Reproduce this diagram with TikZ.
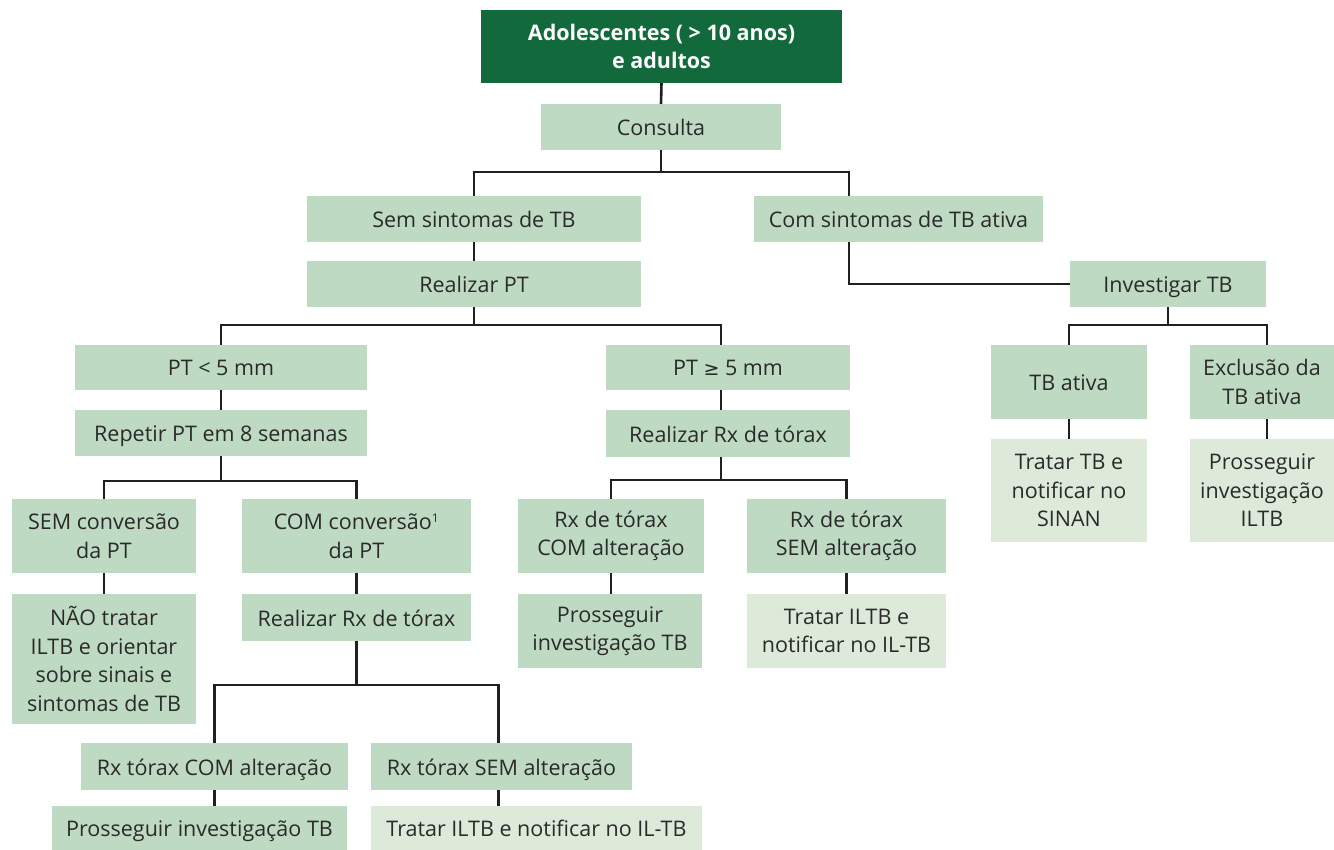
\documentclass[tikz,border=0pt]{standalone}
\usepackage{fontspec}
\setmainfont{Open Sans}
\newfontfamily\symfont{DejaVu Sans}
\definecolor{headgreen}{HTML}{12693B}
\definecolor{midgreen}{HTML}{BEDAC3}
\definecolor{palegreen}{HTML}{DDEADA}
\definecolor{inkgray}{HTML}{2A2A2A}
\definecolor{linegray}{HTML}{231F20}
% box given by its left, top, right and bottom edges
\newcommand{\flowbox}[7]{%
  \node[#6, minimum width={(#4-#2)*1pt}, minimum height={(#5-#3)*1pt}]
    (#1) at ({(#2+#4)/2},{(#3+#5)/2}) {#7};}
\begin{document}
\begin{tikzpicture}[x=1pt, y=-1pt,
  base/.style={inner sep=0pt, outer sep=0pt, align=center,
    font=\fontsize{21.5}{28.5}\selectfont},
  headbox/.style={base, fill=headgreen, text=white,
    font=\fontsize{21.5}{28.5}\selectfont\bfseries},
  stepbox/.style={base, fill=midgreen, text=inkgray},
  endbox/.style={base, fill=palegreen, text=inkgray},
  oneline/.style={text height=17pt, text depth=0pt},
  stepline/.style={stepbox, oneline},
  endline/.style={endbox, oneline},
  link/.style={draw=linegray, line width=2.6pt}]
\useasboundingbox (0,0) rectangle (1334,850);

\flowbox{top}{481}{10}{842}{83}{headbox}{Adolescentes ( > 10 anos)\\e adultos}
\flowbox{consulta}{541}{104}{781}{150}{stepline}{Consulta}
\flowbox{semsint}{307}{196}{641}{242}{stepline}{Sem sintomas de TB}
\flowbox{comsint}{754}{196}{1043}{242}{stepline}{Com sintomas de TB ativa}
\flowbox{rpt}{307}{261}{641}{307}{stepline}{Realizar PT}
\flowbox{invtb}{1070}{261}{1266}{307}{stepline}{Investigar TB}
\flowbox{ptlt}{75}{345}{367}{390}{stepline}{PT < 5 mm}
\flowbox{ptge}{606}{345}{850}{390}{stepline}{PT {\symfont\fontsize{19}{28.5}\selectfont ≥} 5 mm}
\flowbox{tbat}{991}{345}{1147}{419}{stepline}{TB ativa}
\flowbox{excl}{1190}{345}{1334}{419}{stepbox}{Exclusão da\\TB ativa}
\flowbox{rep}{75}{410}{367}{456}{stepline}{Repetir PT em 8 semanas}
\flowbox{rxr}{606}{410}{850}{457}{stepline}{Realizar Rx de tórax}
\flowbox{tratsinan}{991}{439}{1147}{542}{endbox}{Tratar TB e\\notificar no\\SINAN}
\flowbox{prossiltb}{1190}{439}{1334}{542}{endbox}{Prosseguir\\investigação\\ILTB}
\flowbox{semconv}{12}{499}{196}{573}{stepbox}{SEM conversão\\da PT}
\flowbox{comconv}{242}{499}{471}{573}{stepbox}{COM conversão\textsuperscript{\fontsize{12}{12}\selectfont 1}\\da PT}
\flowbox{rxcom}{518}{499}{704}{573}{stepbox}{Rx de tórax\\COM alteração}
\flowbox{rxsem}{747}{499}{946}{573}{stepbox}{Rx de tórax\\SEM alteração}
\flowbox{nao}{12}{594}{196}{724}{stepbox}{NÃO tratar\\ILTB e orientar\\sobre sinais e\\sintomas de TB}
\flowbox{rxl}{242}{594}{471}{641}{stepline}{Realizar Rx de tórax}
\flowbox{prostb}{518}{594}{702}{668}{stepbox}{Prosseguir\\investigação TB}
\flowbox{tratil}{747}{594}{946}{668}{endbox}{Tratar ILTB e\\notificar no IL-TB}
\flowbox{rxtcom}{81}{743}{348}{790}{stepline}{Rx tórax COM alteração}
\flowbox{rxtsem}{371}{743}{632}{790}{stepline}{Rx tórax SEM alteração}
\flowbox{prostb2}{52}{806}{347}{850}{stepline}{Prosseguir investigação TB}
\flowbox{tratil2}{371}{806}{702}{850}{endline}{Tratar ILTB e notificar no IL-TB}

% straight links
\draw[link] (top.south) -- (consulta.north);
\draw[link] (semsint.south) -- (rpt.north);
\draw[link] (ptlt.south) -- (rep.north);
\draw[link] ([xshift=-7pt]ptge.south) -- ([xshift=-7pt]ptge.south |- rxr.north);
\draw[link] (tbat.south) -- (tratsinan.north);
\draw[link] ([xshift=5pt]excl.south) -- ([xshift=5pt]excl.south |- prossiltb.north);
\draw[link] (semconv.south) -- (nao.north);
\draw[link] (comconv.south) -- (rxl.north);
\draw[link] (rxcom.south) -- (rxcom.south |- prostb.north);
\draw[link] (rxsem.south) -- (rxsem.south |- tratil.north);
\draw[link] (rxtcom.south) -- (rxtcom.south |- prostb2.north);
\draw[link] ([xshift=-3pt]rxtsem.south) -- ([xshift=-3pt]rxtsem.south |- tratil2.north);

% branching links
\draw[link] (consulta.south) -- ++(0,22) -| (semsint.north);
\draw[link] (consulta.south) ++(0,22) -| ([xshift=-49.5pt]comsint.north);
\draw[link] ([xshift=-49.5pt]comsint.south) |- (invtb.west);
\draw[link] (rpt.south) -- ++(0,18) -| (ptlt.north);
\draw[link] (rpt.south) ++(0,18) -| ([xshift=-7pt]ptge.north);
\draw[link] (invtb.south) -- ++(0,18) -| (tbat.north);
\draw[link] (invtb.south) ++(0,18) -| ([xshift=5pt]excl.north);
\draw[link] (rep.south) -- ++(0,25) -| (semconv.north);
\draw[link] (rep.south) ++(0,25) -| (comconv.north);
\draw[link] ([xshift=-7pt]rxr.south) -- ++(0,23) -| (rxcom.north);
\draw[link] ([xshift=-7pt]rxr.south) ++(0,23) -| (rxsem.north);
\draw[link] (rxl.south) -- ++(0,44) -| (rxtcom.north);
\draw[link] (rxl.south) ++(0,44) -| ([xshift=-3pt]rxtsem.north);
\end{tikzpicture}
\end{document}
